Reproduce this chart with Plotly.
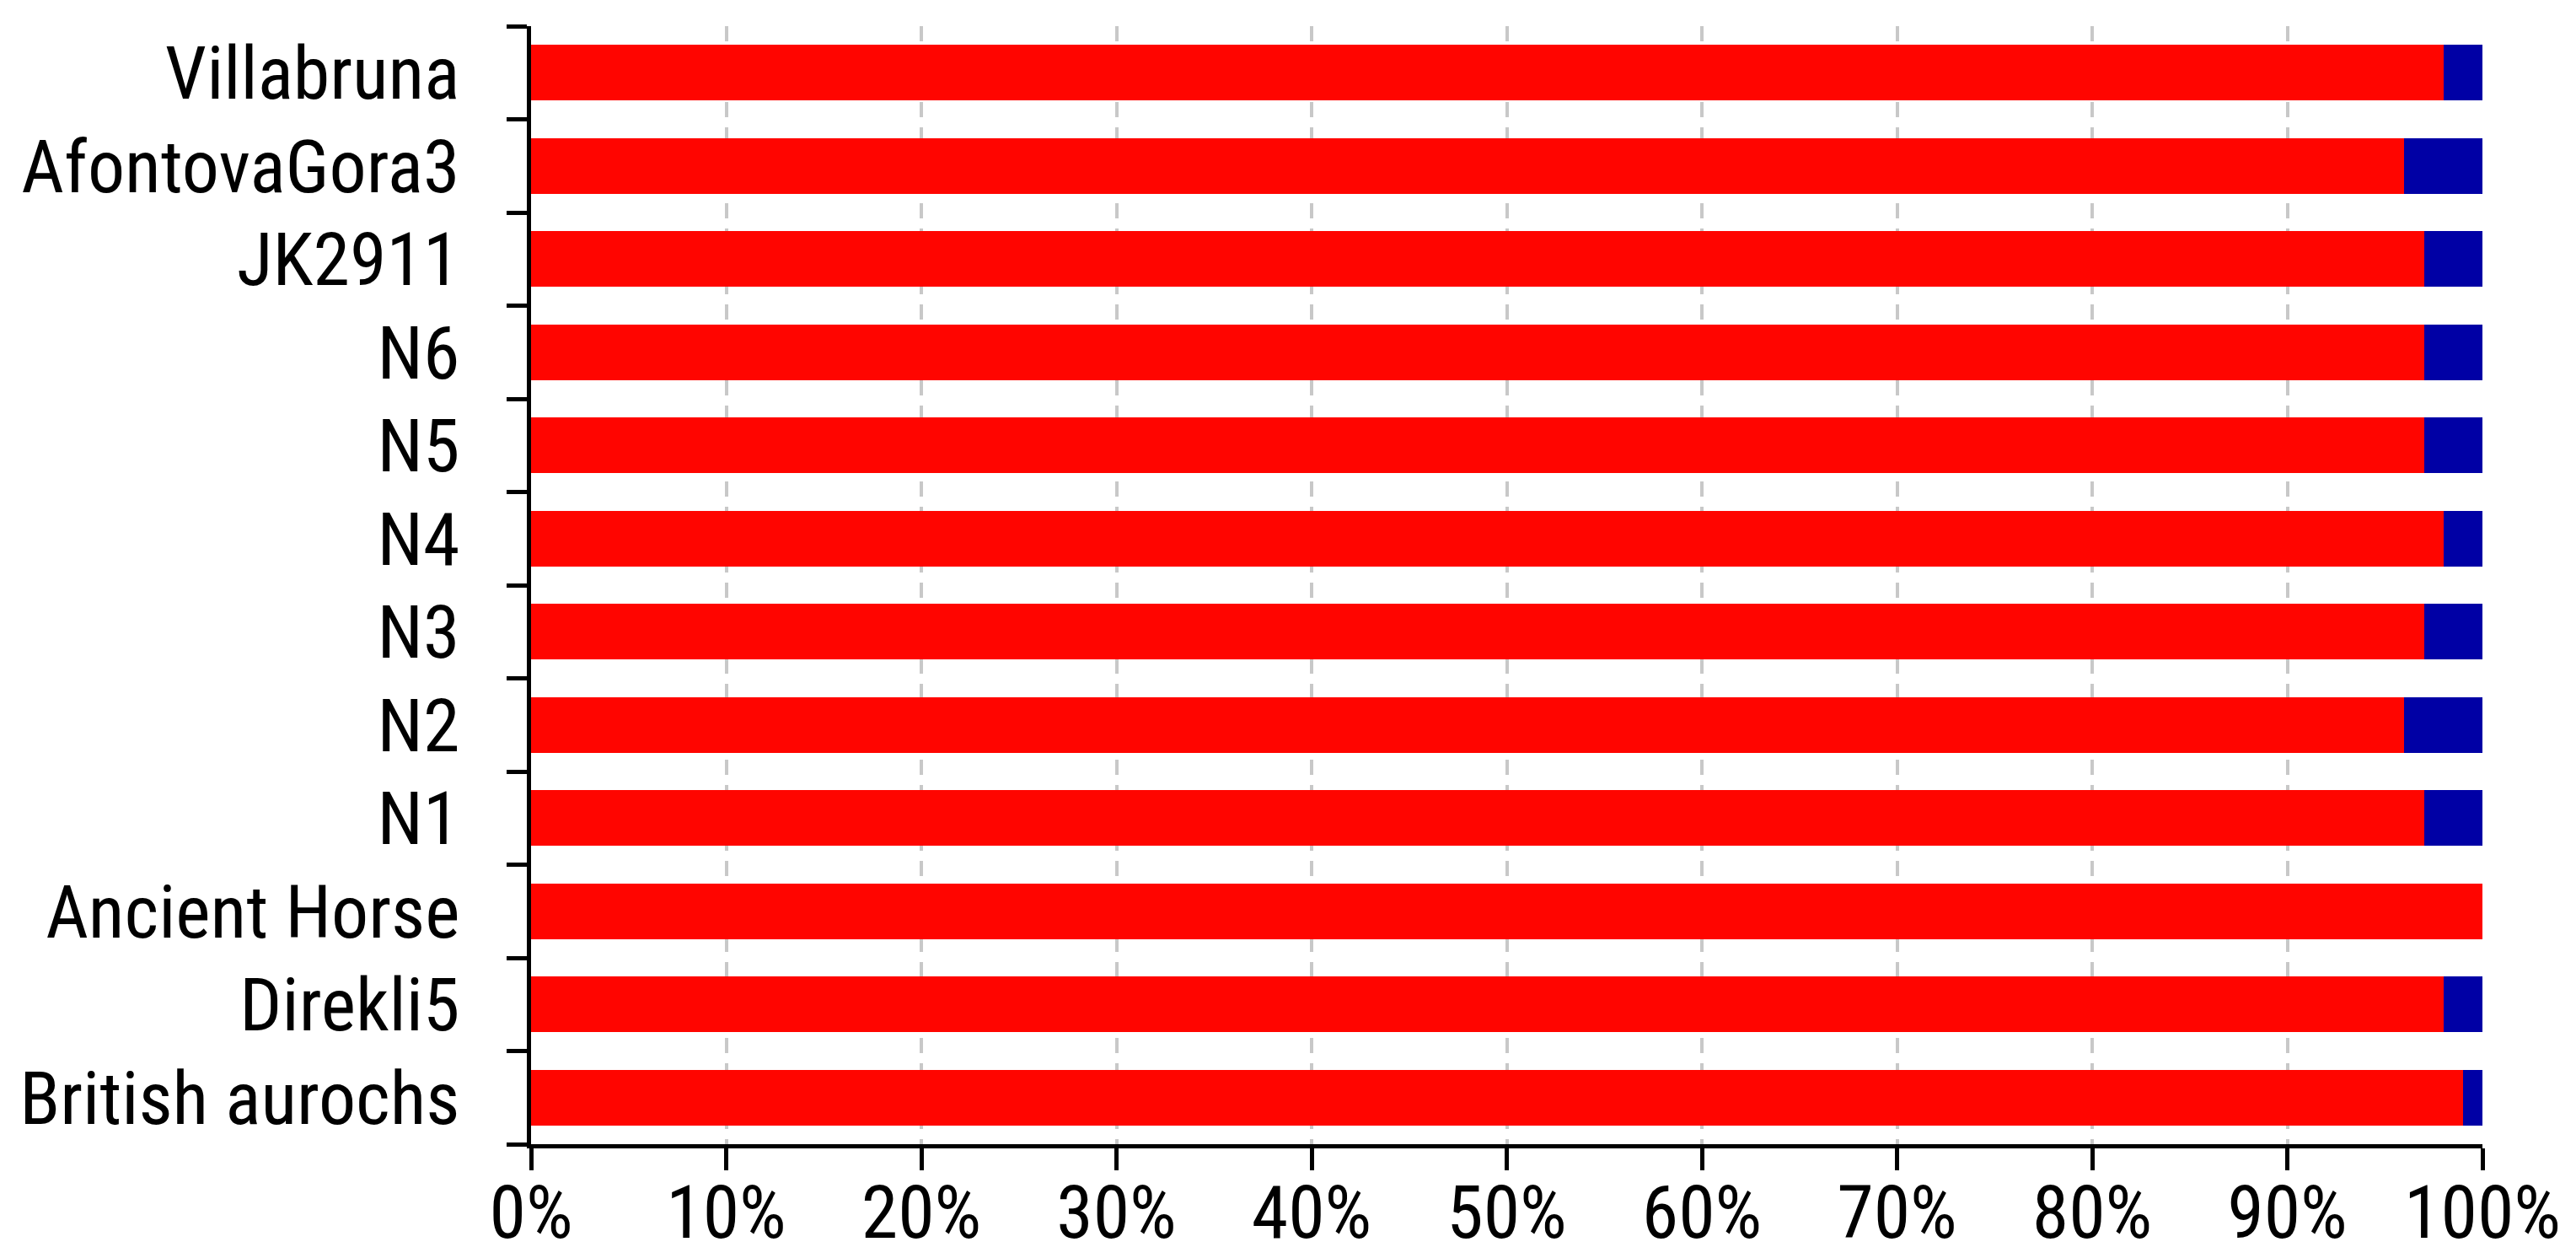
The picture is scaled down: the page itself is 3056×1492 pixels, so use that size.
import plotly.graph_objects as go

samples = ["Villabruna", "AfontovaGora3", "JK2911", "N6", "N5", "N4", "N3", "N2", "N1",
           "Ancient Horse", "Direkli5", "British aurochs"]
red_pct = [98, 96, 97, 97, 97, 98, 97, 96, 97, 100, 98, 99]
blue_pct = [2, 4, 3, 3, 3, 2, 3, 4, 3, 0, 2, 1]
x_ticks = [0, 10, 20, 30, 40, 50, 60, 70, 80, 90, 100]
x_tick_labels = ["0%", "10%", "20%", "30%", "40%", "50%", "60%", "70%", "80%", "90%", "100%"]

FONT = "Roboto Condensed, Liberation Sans, Arial, sans-serif"

fig = go.Figure()
fig.add_trace(go.Bar(y=samples, x=red_pct, orientation="h", marker_color="#ff0500",
                     marker_line_width=0, width=0.6, showlegend=False))
fig.add_trace(go.Bar(y=samples, x=blue_pct, orientation="h", marker_color="#0000a5",
                     marker_line_width=0, width=0.6, showlegend=False))

fig.update_layout(
    barmode="stack",
    width=3056, height=1492,
    margin=dict(l=622, r=119, t=23, b=143, pad=0, autoexpand=False),
    plot_bgcolor="white", paper_bgcolor="white",
    font=dict(family=FONT, color="black"),
)
fig.update_xaxes(
    range=[0, 100], tickmode="array", tickvals=x_ticks, ticktext=x_tick_labels,
    showline=True, linecolor="black", linewidth=5,
    ticks="outside", ticklen=26, tickwidth=5, tickcolor="black",
    tickfont=dict(size=88, family=FONT, color="black"),
    showgrid=True, gridcolor="#c8c8c8", gridwidth=4, griddash="18px,12px",
    zeroline=False, ticklabelstandoff=-26, automargin=False,
)
fig.update_yaxes(
    tickmode="array", tickvals=samples, ticktext=samples,
    categoryorder="array", categoryarray=samples, autorange="reversed",
    showline=True, linecolor="black", linewidth=5,
    ticks="outside", ticklen=24, tickwidth=5, tickcolor="black",
    tickson="boundaries", showgrid=False, zeroline=False,
    tickfont=dict(size=88, family=FONT, color="black"),
    ticklabelstandoff=62, automargin=False,
)

fig.write_html("out.html")
